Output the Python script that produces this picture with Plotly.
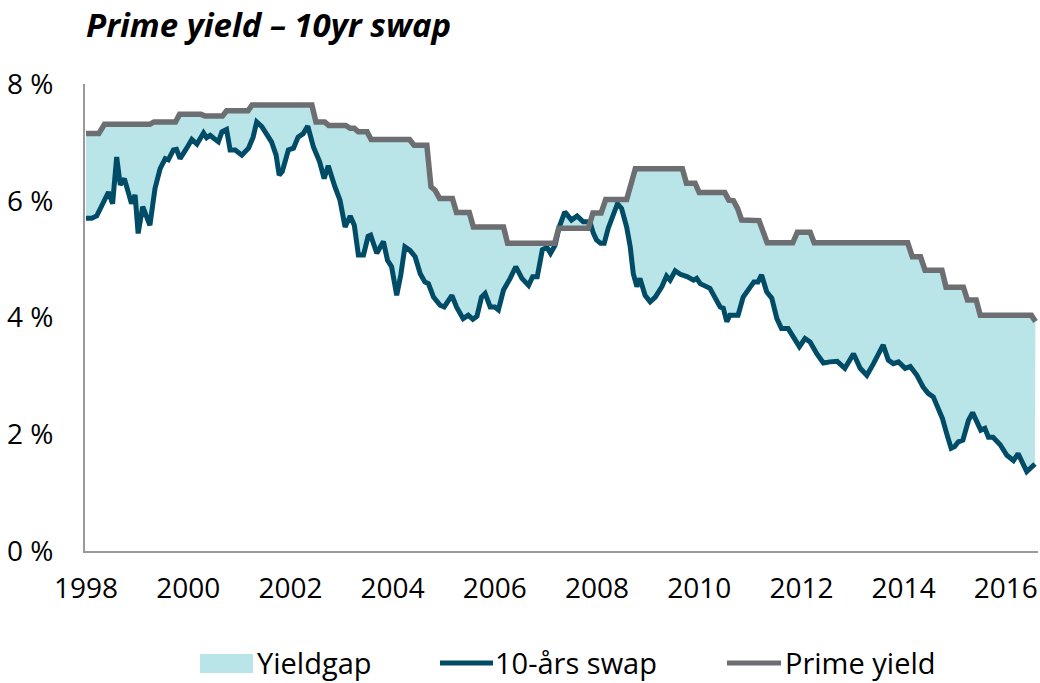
import plotly.graph_objects as go

# ---------------- data ----------------
prime_t = [1998.00, 1998.25, 1998.36, 1999.25, 1999.33, 1999.75, 1999.83, 2000.25, 2000.33,
           2000.67, 2000.75, 2001.17, 2001.25, 2002.42, 2002.50, 2002.67, 2002.75, 2003.08,
           2003.17, 2003.25, 2003.33, 2003.50, 2003.58, 2004.33, 2004.42, 2004.67, 2004.75,
           2004.83, 2004.92, 2005.17, 2005.25, 2005.50, 2005.58, 2006.17, 2006.25, 2007.17,
           2007.25, 2007.83, 2007.92, 2008.08, 2008.17, 2008.58, 2008.75, 2009.67, 2009.75,
           2009.92, 2010.00, 2010.50, 2010.58, 2010.67, 2010.75, 2010.83, 2011.17, 2011.33,
           2011.83, 2011.92, 2012.17, 2012.25, 2014.08, 2014.17, 2014.33, 2014.42, 2014.75,
           2014.83, 2015.17, 2015.25, 2015.42, 2015.50, 2016.50, 2016.58]
prime_v = [7.15, 7.15, 7.31, 7.31, 7.35, 7.35, 7.48, 7.48, 7.45,
           7.45, 7.54, 7.54, 7.64, 7.64, 7.35, 7.35, 7.29, 7.29,
           7.24, 7.24, 7.18, 7.18, 7.05, 7.05, 6.95, 6.95, 6.24,
           6.18, 6.04, 6.04, 5.80, 5.80, 5.55, 5.55, 5.27, 5.27,
           5.53, 5.53, 5.79, 5.79, 6.02, 6.02, 6.55, 6.55, 6.30,
           6.30, 6.14, 6.14, 6.01, 6.00, 5.87, 5.67, 5.66, 5.28,
           5.28, 5.46, 5.46, 5.28, 5.28, 5.04, 5.04, 4.81, 4.81,
           4.52, 4.52, 4.30, 4.30, 4.04, 4.04, 3.93]

swap_t = [1998.00, 1998.11, 1998.21, 1998.34, 1998.44, 1998.52, 1998.60, 1998.67, 1998.75,
          1998.89, 1998.96, 1999.02, 1999.11, 1999.25, 1999.35, 1999.45, 1999.55, 1999.61,
          1999.71, 1999.77, 1999.84, 1999.97, 2000.07, 2000.17, 2000.23, 2000.30, 2000.36,
          2000.43, 2000.50, 2000.59, 2000.66, 2000.75, 2000.82, 2000.92, 2001.05, 2001.18,
          2001.27, 2001.34, 2001.44, 2001.63, 2001.72, 2001.78, 2001.84, 2001.89, 2001.96,
          2002.06, 2002.15, 2002.25, 2002.34, 2002.45, 2002.57, 2002.66, 2002.74, 2002.87,
          2002.97, 2003.07, 2003.17, 2003.25, 2003.33, 2003.43, 2003.52, 2003.57, 2003.69,
          2003.82, 2003.90, 2003.98, 2004.08, 2004.16, 2004.24, 2004.34, 2004.44, 2004.54,
          2004.63, 2004.70, 2004.80, 2004.93, 2005.01, 2005.16, 2005.25, 2005.38, 2005.48,
          2005.57, 2005.65, 2005.74, 2005.81, 2005.91, 2006.00, 2006.07, 2006.17, 2006.30,
          2006.41, 2006.53, 2006.66, 2006.74, 2006.83, 2006.93, 2007.02, 2007.09, 2007.18,
          2007.26, 2007.37, 2007.50, 2007.61, 2007.73, 2007.86, 2007.93, 2007.99, 2008.07,
          2008.14, 2008.22, 2008.32, 2008.40, 2008.48, 2008.58, 2008.65, 2008.71, 2008.78,
          2008.84, 2008.94, 2009.04, 2009.14, 2009.27, 2009.36, 2009.43, 2009.53, 2009.63,
          2009.76, 2009.89, 2009.95, 2010.02, 2010.21, 2010.31, 2010.41, 2010.47, 2010.54,
          2010.60, 2010.76, 2010.86, 2010.96, 2011.07, 2011.15, 2011.22, 2011.32, 2011.42,
          2011.52, 2011.61, 2011.74, 2011.84, 2011.96, 2012.07, 2012.17, 2012.30, 2012.43,
          2012.56, 2012.70, 2012.85, 2013.02, 2013.15, 2013.28, 2013.41, 2013.51, 2013.60,
          2013.70, 2013.80, 2013.90, 2014.03, 2014.13, 2014.26, 2014.38, 2014.48, 2014.58,
          2014.68, 2014.76, 2014.84, 2014.93, 2015.00, 2015.07, 2015.16, 2015.27, 2015.35,
          2015.43, 2015.51, 2015.59, 2015.66, 2015.75, 2015.89, 2016.02, 2016.15, 2016.24,
          2016.41, 2016.57]
swap_v = [5.70, 5.70, 5.74, 5.95, 6.15, 5.95, 6.75, 6.27, 6.38,
          5.95, 6.10, 5.44, 5.90, 5.58, 6.21, 6.55, 6.72, 6.70,
          6.87, 6.88, 6.72, 6.90, 7.05, 6.97, 7.07, 7.16, 7.08,
          7.12, 7.07, 7.01, 7.18, 7.22, 6.87, 6.87, 6.78, 6.90,
          7.09, 7.35, 7.27, 7.01, 6.78, 6.44, 6.50, 6.67, 6.87,
          6.90, 7.09, 7.15, 7.28, 6.92, 6.67, 6.38, 6.60, 6.24,
          6.01, 5.55, 5.74, 5.58, 5.07, 5.07, 5.39, 5.41, 5.10,
          5.30, 4.98, 4.87, 4.38, 4.73, 5.21, 5.15, 5.04, 4.75,
          4.61, 4.58, 4.35, 4.21, 4.18, 4.38, 4.18, 3.98, 4.04,
          3.97, 4.02, 4.35, 4.41, 4.18, 4.18, 4.13, 4.47, 4.67,
          4.87, 4.67, 4.55, 4.70, 4.70, 5.16, 5.20, 5.10, 5.24,
          5.55, 5.81, 5.67, 5.74, 5.64, 5.64, 5.44, 5.33, 5.27,
          5.27, 5.53, 5.75, 5.95, 5.87, 5.55, 5.21, 4.75, 4.53,
          4.67, 4.38, 4.27, 4.35, 4.53, 4.71, 4.64, 4.80, 4.74,
          4.70, 4.64, 4.67, 4.58, 4.50, 4.35, 4.18, 4.16, 3.93,
          4.04, 4.04, 4.35, 4.47, 4.61, 4.61, 4.73, 4.44, 4.33,
          3.98, 3.81, 3.81, 3.67, 3.50, 3.64, 3.58, 3.38, 3.22,
          3.24, 3.25, 3.13, 3.38, 3.13, 3.01, 3.21, 3.36, 3.53,
          3.27, 3.21, 3.24, 3.13, 3.16, 3.01, 2.81, 2.70, 2.64,
          2.44, 2.27, 2.02, 1.76, 1.79, 1.87, 1.90, 2.24, 2.37,
          2.24, 2.07, 2.10, 1.95, 1.95, 1.82, 1.64, 1.55, 1.67,
          1.36, 1.49]

year_ticks = [1998, 2000, 2002, 2004, 2006, 2008, 2010, 2012, 2014, 2016]
y_ticks = [0, 2, 4, 6, 8]
series_names = ["Yieldgap", "10-års swap", "Prime yield"]
title_text = "Prime yield – 10yr swap"

# ---------------- styling ----------------
C_FILL = "#b9e5e8"
C_SWAP = "#004b66"
C_PRIME = "#6d6e71"
C_AXIS = "#9a9a9a"
FONT = "Open Sans"

W, H = 1040, 683
ML, MR, MT, MB = 85, 2, 84, 132

fig = go.Figure()
# base for fill (invisible)
fig.add_trace(go.Scatter(x=swap_t, y=swap_v, mode="lines", line=dict(width=0, color=C_SWAP),
                         showlegend=False, hoverinfo="skip"))
# gap area
fig.add_trace(go.Scatter(x=prime_t, y=prime_v, mode="lines", fill="tonexty", fillcolor=C_FILL,
                         line=dict(width=0, color=C_FILL), name=series_names[0], showlegend=False))
fig.add_trace(go.Scatter(x=swap_t, y=swap_v, mode="lines", name=series_names[1],
                         line=dict(color=C_SWAP, width=5), showlegend=False))
fig.add_trace(go.Scatter(x=prime_t, y=prime_v, mode="lines", name=series_names[2],
                         line=dict(color=C_PRIME, width=5.5), showlegend=False))

pw = W - ML - MR
ph = H - MT - MB


def px(x):
    return (x - ML) / pw


def py(y):
    return (H - MB - y) / ph


# manual legend (swatches + text)
legend_y = 663
LEG_FONT = dict(size=29, family=FONT, color="black")
shapes = [
    dict(type="rect", xref="paper", yref="paper", x0=px(200), x1=px(253), y0=py(673), y1=py(654),
         fillcolor=C_FILL, line=dict(width=0)),
    dict(type="line", xref="paper", yref="paper", x0=px(440), x1=px(493), y0=py(legend_y), y1=py(legend_y),
         line=dict(color=C_SWAP, width=5)),
    dict(type="line", xref="paper", yref="paper", x0=px(727), x1=px(781), y0=py(legend_y), y1=py(legend_y),
         line=dict(color=C_PRIME, width=5)),
]
annotations = [
    dict(text=series_names[0], xref="paper", yref="paper", x=px(255), y=py(legend_y - 1), xanchor="left",
         yanchor="middle", showarrow=False, font=LEG_FONT),
    dict(text=series_names[1], xref="paper", yref="paper", x=px(493), y=py(legend_y - 1), xanchor="left",
         yanchor="middle", showarrow=False, font=LEG_FONT),
    dict(text=series_names[2], xref="paper", yref="paper", x=px(783), y=py(legend_y - 1), xanchor="left",
         yanchor="middle", showarrow=False, font=LEG_FONT),
]

fig.update_layout(
    width=W, height=H,
    margin=dict(l=ML, r=MR, t=MT, b=MB, autoexpand=False),
    paper_bgcolor="white", plot_bgcolor="white",
    font=dict(family=FONT, size=28, color="black"),
    title=dict(text="<b><i>" + title_text + "</i></b>", x=86 / W, xanchor="left", y=1 - 25 / H,
               yanchor="middle", font=dict(family=FONT, size=33, color="black")),
    showlegend=False,
    shapes=shapes,
    annotations=annotations,
    xaxis=dict(range=[1997.98, 1997.98 + pw / 51.1], tickmode="array", tickvals=year_ticks,
               ticktext=[str(y) for y in year_ticks], showgrid=False, zeroline=False,
               showline=True, linecolor=C_AXIS, linewidth=2, ticks="", ticklabelstandoff=11,
               tickfont=dict(size=28), automargin=False),
    yaxis=dict(range=[0, 8], tickmode="array", tickvals=y_ticks,
               ticktext=[f"{v} %" for v in y_ticks], showgrid=False, zeroline=False,
               showline=True, linecolor=C_AXIS, linewidth=2, ticks="", ticklabelstandoff=24,
               tickfont=dict(size=28), automargin=False),
)

fig.write_html("out.html", config={"displayModeBar": False},
               post_script="document.body.style.margin='0';document.body.style.padding='0';"
                           "document.body.style.overflow='hidden';")
